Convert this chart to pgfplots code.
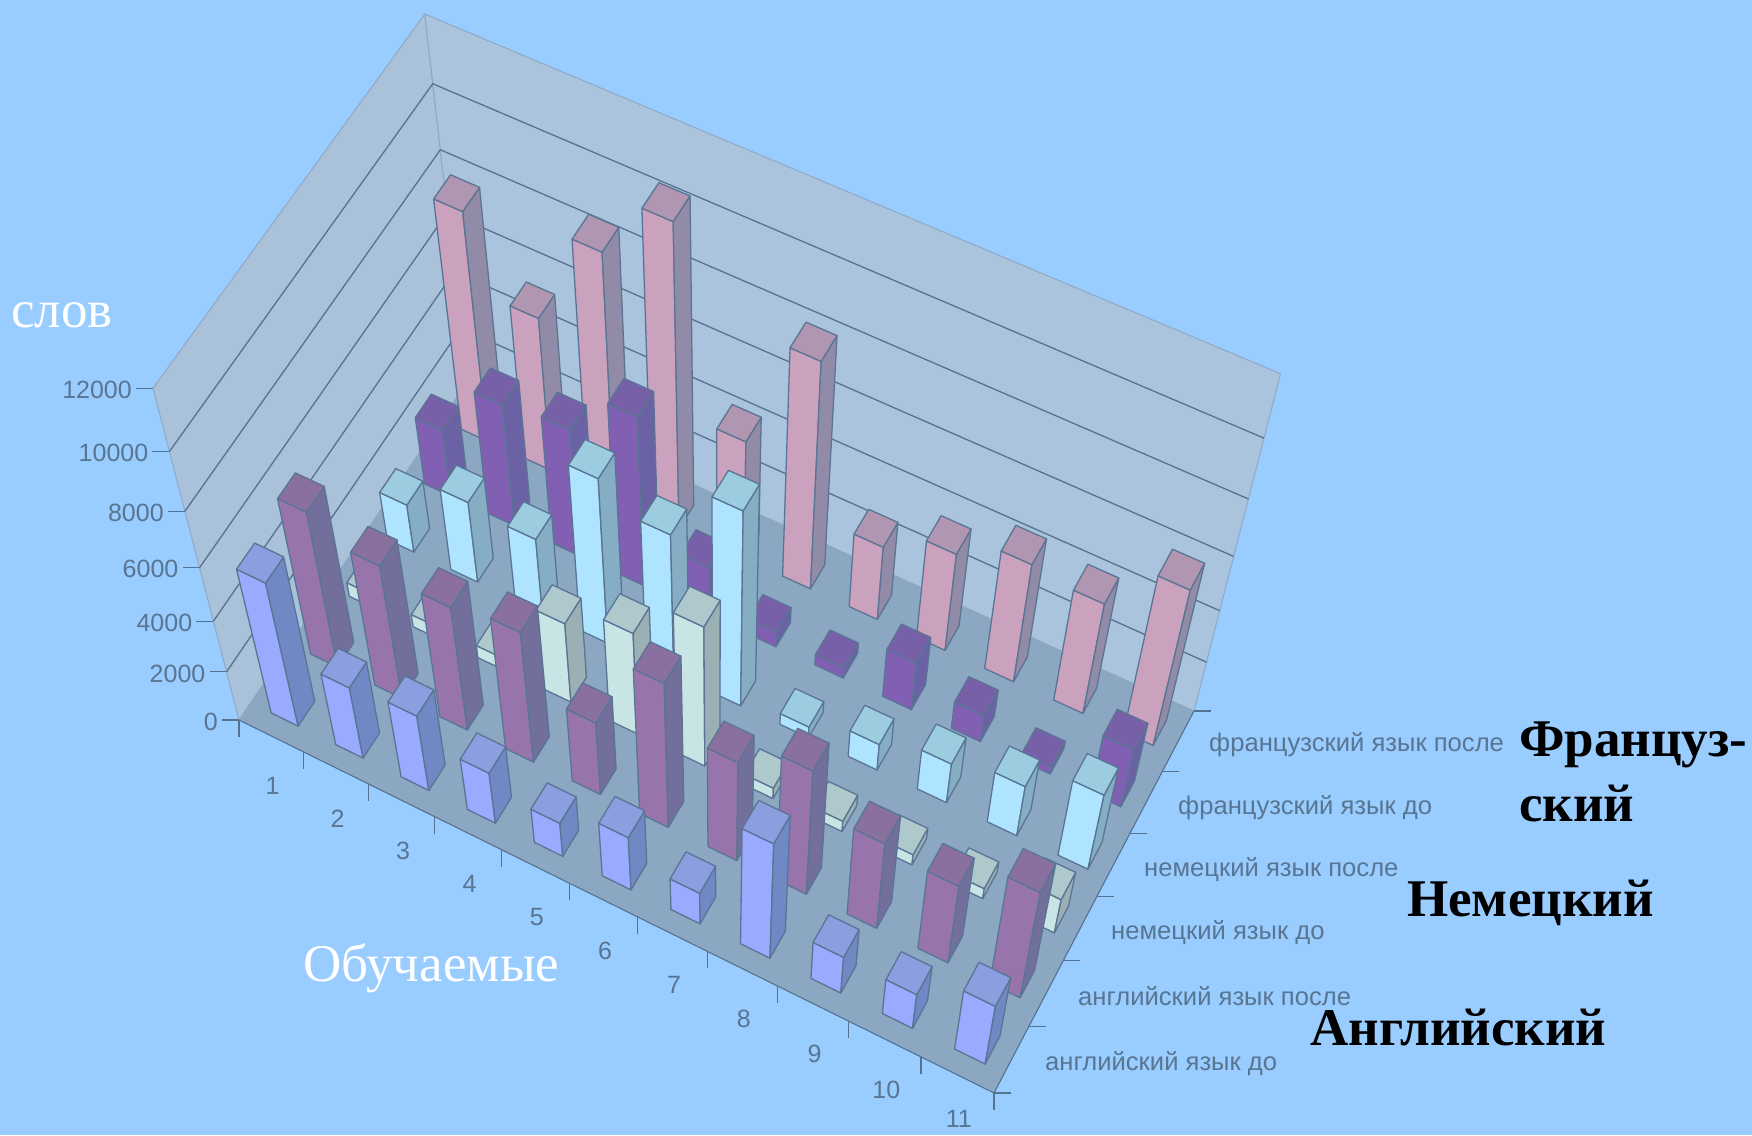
\documentclass[border=0pt]{standalone}
\usepackage{pgfplots}
\usepackage{pgfplotstable}
\usepackage{fontspec}
\setmainfont{Liberation Serif}
\newfontfamily\lab{Liberation Sans}
\pgfplotsset{compat=1.18}
\definecolor{bg}{HTML}{99CCFF}
\definecolor{wallb}{HTML}{AAC4DD}
\definecolor{walll}{HTML}{A9C1D9}
\definecolor{flr}{HTML}{8BA7C2}
\definecolor{wedge}{HTML}{8FA9C4}
\definecolor{grid}{HTML}{557290}
\definecolor{edge}{HTML}{5A7594}
\definecolor{txt}{HTML}{587592}
\definecolor{af}{HTML}{99AAFF}\definecolor{as}{HTML}{7089C4}\definecolor{at}{HTML}{8B9FE0}
\definecolor{bf}{HTML}{9775AC}\definecolor{bs}{HTML}{726F9C}\definecolor{bt}{HTML}{8A709E}
\definecolor{cf}{HTML}{C8E4E4}\definecolor{cs}{HTML}{9BB0B4}\definecolor{ct}{HTML}{AEC8CC}
\definecolor{df}{HTML}{AEE4FF}\definecolor{ds}{HTML}{85ADC4}\definecolor{dt}{HTML}{9CCCE0}
\definecolor{ef}{HTML}{8160B4}\definecolor{es}{HTML}{6A62A4}\definecolor{et}{HTML}{7860A8}
\definecolor{ff}{HTML}{CBA2BE}\definecolor{fs}{HTML}{928BA8}\definecolor{ft}{HTML}{B096B0}
% values: one row per series, one column per learner
\pgfplotstableread{
c1 c2 c3 c4 c5 c6 c7 c8 c9 c10 c11
5670 2920 3120 2150 1450 2300 1380 5000 1660 1590 2730
5980 5220 4900 5220 3000 5880 4150 5220 3710 3420 4690
550 500 500 3170 4060 5570 450 450 450 450 1500
1840 3100 2880 6260 5420 7440 450 1080 1650 2110 3180
2520 4530 4740 6290 1940 600 420 1920 1090 300 2410
8030 5520 8690 10600 4420 8250 2840 3770 4590 4350 6100
}\data
% perspective map of the 3-D box: x in cells (0-11), y in cells (0-6), z in words (0-12000)
\newcommand\WW[3]{(1-.0663*(#1)/11+.05676*(#2)/6-.1523*(#3)/12000)}
\newcommand\XX[3]{\fpeval{round((239+689.1*(#1)/11+254.5*(#2)/6-109.3*(#3)/12000)/\WW{#1}{#2}{#3},2)}}
\newcommand\YY[3]{\fpeval{round((720+300.5*(#1)/11-316.3*(#2)/6-391.0*(#3)/12000)/\WW{#1}{#2}{#3},2)}}
\newcommand\PP[3]{(\XX{#1}{#2}{#3},\YY{#1}{#2}{#3})}
\newcommand\BAR[6]{%
 \edef\xa{\fpeval{#1+.5-.18}}\edef\xb{\fpeval{#1+.5+.24}}%
 \edef\ya{\fpeval{#2+.5-.21}}\edef\yb{\fpeval{#2+.5+.21}}%
 \edef\temp{\noexpand\addplot[fill=#4,draw=edge,line width=1.3pt,line join=round] coordinates {\PP{\xa}{\ya}{0} \PP{\xb}{\ya}{0} \PP{\xb}{\ya}{#3} \PP{\xa}{\ya}{#3}} --cycle;
 \noexpand\addplot[fill=#5,draw=edge,line width=1.3pt,line join=round] coordinates {\PP{\xb}{\ya}{0} \PP{\xb}{\yb}{0} \PP{\xb}{\yb}{#3} \PP{\xb}{\ya}{#3}} --cycle;
 \noexpand\addplot[fill=#6,draw=edge,line width=1.3pt,line join=round] coordinates {\PP{\xa}{\ya}{#3} \PP{\xb}{\ya}{#3} \PP{\xb}{\yb}{#3} \PP{\xa}{\yb}{#3}} --cycle;}%
 \temp}
\begin{document}
\begin{tikzpicture}
\begin{axis}[scale only axis,width=1752pt,height=1135pt,xmin=0,xmax=1752,ymin=0,ymax=1135,y dir=reverse,hide axis,clip=false]
\addplot[fill=bg,draw=none] coordinates {(0,0) (1752,0) (1752,1135) (0,1135)} --cycle;
% walls and floor
\edef\temp{\noexpand\addplot[fill=walll,draw=wedge,line width=1pt] coordinates {\PP{0}{0}{0} \PP{0}{6}{0} \PP{0}{6}{12000} \PP{0}{0}{12000}} --cycle;
\noexpand\addplot[fill=wallb,draw=wedge,line width=1pt] coordinates {\PP{0}{6}{0} \PP{11}{6}{0} \PP{11}{6}{12000} \PP{0}{6}{12000}} --cycle;
\noexpand\addplot[fill=flr,draw=none] coordinates {\PP{0}{0}{0} \PP{11}{0}{0} \PP{11}{6}{0} \PP{0}{6}{0}} --cycle;}
\temp
\edef\temp{\noexpand\addplot[draw=grid,line width=1.1pt] coordinates {\PP{0}{0}{0} \PP{11}{0}{0} \PP{11}{6}{0}};}
\temp
% grid lines and value ticks
\foreach \z in {2000,4000,6000,8000,10000}{
 \edef\temp{\noexpand\addplot[draw=grid,line width=1.3pt] coordinates {\PP{0}{0}{\z} \PP{0}{6}{\z} \PP{11}{6}{\z}};}\temp}
\foreach \z in {0,2000,4000,6000,8000,10000,12000}{
 \edef\xv{\XX{0}{0}{\z}}\edef\yv{\YY{0}{0}{\z}}
 \edef\temp{\noexpand\addplot[draw=grid,line width=1.1pt] coordinates {(\xv,\yv) (\fpeval{\xv-17},\yv)};
 \noexpand\node[anchor=east,text=txt,inner sep=0pt,font=\noexpand\lab\noexpand\fontsize{25}{29}\noexpand\selectfont] at (axis cs:\fpeval{\xv-21},\fpeval{\yv+1.5}) {\z};}\temp}
% learner ticks and labels
\foreach \i in {0,...,11}{
 \edef\xv{\XX{\i}{0}{0}}\edef\yv{\YY{\i}{0}{0}}
 \edef\temp{\noexpand\addplot[draw=grid,line width=1.1pt] coordinates {(\xv,\yv) (\xv,\fpeval{\yv+17})};}\temp}
\foreach \i in {1,...,11}{
 \edef\xv{\XX{\i-.5}{0}{0}}\edef\yv{\YY{\i-.5}{0}{0}}
 \edef\temp{\noexpand\node[text=txt,inner sep=0pt,font=\noexpand\lab\noexpand\fontsize{25}{29}\noexpand\selectfont] at (axis cs:\fpeval{\xv+1.5},\fpeval{min(\yv+50.5,1119)}) {\i};}\temp}
% series ticks
\foreach \j in {0,...,6}{
 \edef\xv{\XX{11}{\j}{0}}\edef\yv{\YY{11}{\j}{0}}
 \edef\temp{\noexpand\addplot[draw=grid,line width=1.1pt] coordinates {(\xv,\yv) (\fpeval{\xv+17},\yv)};}\temp}
% bars, back row first
\foreach \j/\cF/\cS/\cT in {5/ff/fs/ft,4/ef/es/et,3/df/ds/dt,2/cf/cs/ct,1/bf/bs/bt,0/af/as/at}{
 \foreach \i in {0,...,10}{
  \pgfplotstablegetelem{\j}{[index]\i}\of\data
  \edef\vv{\pgfplotsretval}
  \BAR{\i}{\j}{\vv}{\cF}{\cS}{\cT}
 }}
% texts
\tikzset{rl/.style={anchor=west,text=txt,inner sep=0pt,font=\lab\fontsize{25.6}{30}\selectfont}}
\node[rl] at (axis cs:1209,745) {французский язык после};
\node[rl] at (axis cs:1178,808) {французский язык до};
\node[rl] at (axis cs:1144,870) {немецкий язык после};
\node[rl] at (axis cs:1111,933) {немецкий язык до};
\node[rl] at (axis cs:1078,996) {английский язык после};
\node[rl] at (axis cs:1045,1064) {английский язык до};
\tikzset{bl/.style={anchor=base west,inner sep=0pt,text=black,font=\bfseries\fontsize{53}{60}\selectfont}}
\node[bl] at (axis cs:1519,756) {Француз-};
\node[bl] at (axis cs:1519,821) {ский};
\node[bl] at (axis cs:1407,916) {Немецкий};
\node[bl] at (axis cs:1310,1045) {Английский};
\tikzset{wl/.style={anchor=base west,inner sep=0pt,text=white,font=\fontsize{53}{58}\selectfont}}
\node[wl] at (axis cs:11,327) {слов};
\node[wl] at (axis cs:303,981) {Обучаемые};
\end{axis}
\end{tikzpicture}
\end{document}
